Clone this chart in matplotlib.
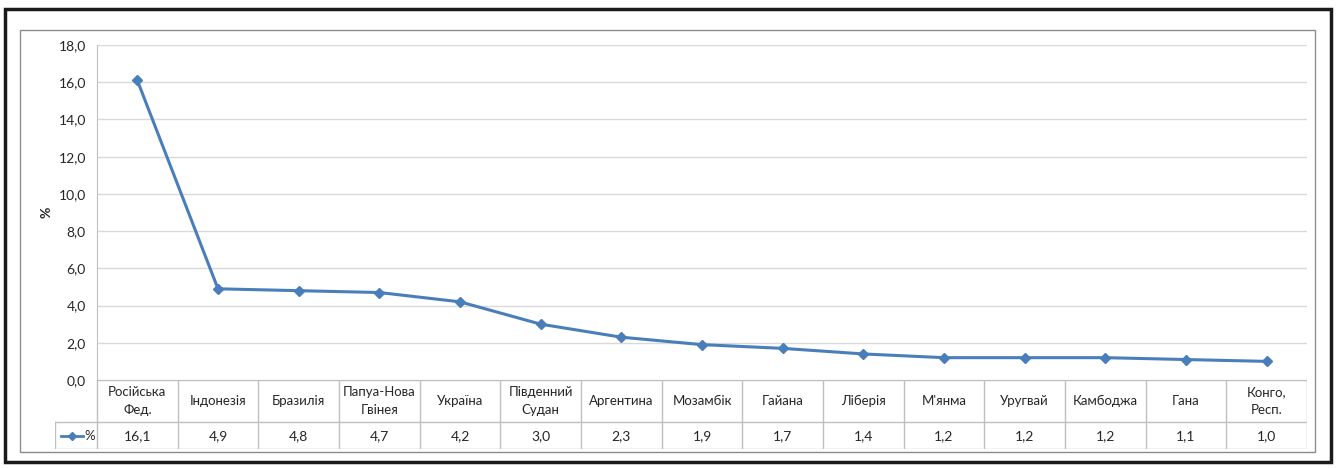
import matplotlib
matplotlib.use("Agg")
import matplotlib.pyplot as plt
from matplotlib.patches import Rectangle
from matplotlib.lines import Line2D

categories = ["Російська\nФед.", "Індонезія", "Бразилія", "Папуа-Нова\nГвінея", "Україна",
              "Південний\nСудан", "Аргентина", "Мозамбік", "Гайана", "Ліберія",
              "М'янма", "Уругвай", "Камбоджа", "Гана", "Конго,\nРесп."]
values = [16.1, 4.9, 4.8, 4.7, 4.2, 3.0, 2.3, 1.9, 1.7, 1.4, 1.2, 1.2, 1.2, 1.1, 1.0]
value_labels = ["16,1", "4,9", "4,8", "4,7", "4,2", "3,0", "2,3", "1,9", "1,7", "1,4",
                "1,2", "1,2", "1,2", "1,1", "1,0"]
yticks = [0, 2, 4, 6, 8, 10, 12, 14, 16, 18]
ytick_labels = ["0,0", "2,0", "4,0", "6,0", "8,0", "10,0", "12,0", "14,0", "16,0", "18,0"]
series_name = "%"

W, H = 1336, 468
plt.rcParams['font.family'] = ['Lato', 'DejaVu Sans']
fig = plt.figure(figsize=(W / 100, H / 100), dpi=100)

def fx(px):
    return px / W

def fy(py):
    return 1 - py / H

BLUE = "#4a7ebb"
GRID = "#d9d9d9"
TEXT = "#262626"

# outer border and inner chart frame
fig.patches.append(Rectangle((fx(5), fy(462)), fx(1331) - fx(5), fy(9) - fy(462),
                             transform=fig.transFigure, fill=False, ec="#1a1a1a", lw=2.5))
fig.patches.append(Rectangle((fx(20), fy(452)), fx(1315) - fx(20), fy(30) - fy(452),
                             transform=fig.transFigure, fill=False, ec="#8c8c8c", lw=1))

# main plot area
L, R, T, B = 97, 1307, 45, 380
ax = fig.add_axes([fx(L), fy(B), fx(R) - fx(L), fy(T) - fy(B)])
n = len(values)
x = list(range(n))
ax.plot(x, values, color=BLUE, lw=2.2, marker="D", ms=5.5, mfc=BLUE, mec=BLUE)
ax.set_xlim(-0.5, n - 0.5)
ax.set_ylim(0, 18)
ax.set_yticks(yticks)
ax.set_yticklabels(ytick_labels, fontsize=10, color=TEXT)
ax.set_xticks([])
ax.grid(axis="y", color=GRID, lw=1)
ax.set_axisbelow(True)
for s in ["top", "right", "bottom"]:
    ax.spines[s].set_visible(False)
ax.spines["left"].set_color("#bfbfbf")
ax.tick_params(axis="y", length=0, pad=8)
ax.set_ylabel(series_name, fontsize=10, fontweight="bold", color=TEXT, labelpad=4)

# data table
colw = (R - L) / n
leg_w = (L - 55) / colw
tax = fig.add_axes([fx(55), fy(449), fx(R) - fx(55), fy(380) - fy(449)])
tax.set_xlim(-0.5 - leg_w, n - 0.5)
tax.set_ylim(449, 380)
tax.axis("off")
lc = "#bfbfbf"
tax.add_line(Line2D([-0.5, n - 0.5], [380, 380], color=lc, lw=1))
tax.add_line(Line2D([-0.5 - leg_w, n - 0.5], [422, 422], color=lc, lw=1))
tax.add_line(Line2D([-0.5 - leg_w, n - 0.5], [449, 449], color=lc, lw=1))
tax.add_line(Line2D([-0.5 - leg_w, -0.5 - leg_w], [422, 449], color=lc, lw=1))
for i in range(n + 1):
    tax.add_line(Line2D([i - 0.5, i - 0.5], [380, 449], color=lc, lw=1))
for i in range(n):
    tax.text(i, 401, categories[i], ha="center", va="center", fontsize=9.5,
             color=TEXT, linespacing=1.55)
    tax.text(i, 436, value_labels[i], ha="center", va="center", fontsize=10, color=TEXT)
# legend key
lx0 = -0.5 - leg_w + 0.08
lx1 = -0.5 - 0.17
tax.add_line(Line2D([lx0, lx1], [436, 436], color=BLUE, lw=2))
tax.plot([(lx0 + lx1) / 2], [436], marker="D", ms=4.5, color=BLUE)
tax.text(-0.5 - 0.03, 436, series_name, ha="right", va="center", fontsize=9.5, color=TEXT)

fig.savefig("out.png", dpi=100)
